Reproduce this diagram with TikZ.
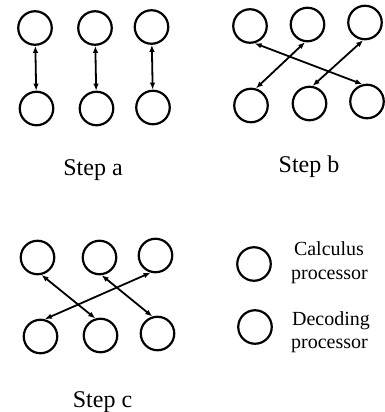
\documentclass[tikz,border=0pt]{standalone}
\usepackage{fontspec}
\setmainfont{Liberation Serif}
\usetikzlibrary{arrows.meta}
\tikzset{
  proc/.style={circle, draw, line width=2.2pt, minimum size=33.5pt, inner sep=0pt},
  link/.style={line width=1.8pt, {Latex[length=7pt,width=5.5pt]}-{Latex[length=7pt,width=5.5pt]}},
  steplabel/.style={anchor=base, inner sep=0pt, font=\fontsize{24}{28}\selectfont},
  legendtext/.style={anchor=base, inner sep=0pt, font=\fontsize{20}{24}\selectfont}
}
\begin{document}
\begin{tikzpicture}[x=1pt, y=-1pt]
\useasboundingbox (0,0) rectangle (385,412);
% Step a
\node[proc] (a1t) at (35,28) {};
\node[proc] (a2t) at (95,28) {};
\node[proc] (a3t) at (151.5,27) {};
\node[proc] (a1b) at (36.5,108.5) {};
\node[proc] (a2b) at (96.5,108.5) {};
\node[proc] (a3b) at (153,107.5) {};
\draw[link] (a1t) -- (a1b);
\draw[link] (a2t) -- (a2b);
\draw[link] (a3t) -- (a3b);
\node[steplabel] (la) at (93,175) {Step a};
% Step b
\node[proc] (b1t) at (250,26) {};
\node[proc] (b2t) at (307.5,24.5) {};
\node[proc] (b3t) at (365,22.5) {};
\node[proc] (b1b) at (251,105.5) {};
\node[proc] (b2b) at (309.5,103.5) {};
\node[proc] (b3b) at (367,101.5) {};
\draw[link] (b1t.-75) -- (b3b.105);
\draw[link] (b1b.74) -- (b2t.-98);
\draw[link] (b2b.80) -- (b3t.-96);
\node[steplabel] (lb) at (309,172.5) {Step b};
% Step c
\node[proc] (c1t) at (37.5,257.5) {};
\node[proc] (c2t) at (99.5,257.5) {};
\node[proc] (c3t) at (155.5,255.5) {};
\node[proc] (c1b) at (40.5,336.5) {};
\node[proc] (c2b) at (100.5,335.5) {};
\node[proc] (c3b) at (157.5,333.5) {};
\draw[link] (c1t.-77) -- (c2b.107);
\draw[link] (c2t.-83) -- (c3b.107);
\draw[link] (c1b.76) -- (c3t.-106);
\node[steplabel] (lc) at (102.5,407) {Step c};
% Legend
\node[proc] (lcalc) at (254,264) {};
\node[proc] (ldec) at (255,327) {};
\node[legendtext] (tcalc1) at (329,255) {Calculus};
\node[legendtext] (tcalc2) at (329.5,279) {processor};
\node[legendtext] (tdec1) at (331,325) {Decoding};
\node[legendtext] (tdec2) at (329.5,348.5) {processor};
\end{tikzpicture}
\end{document}
